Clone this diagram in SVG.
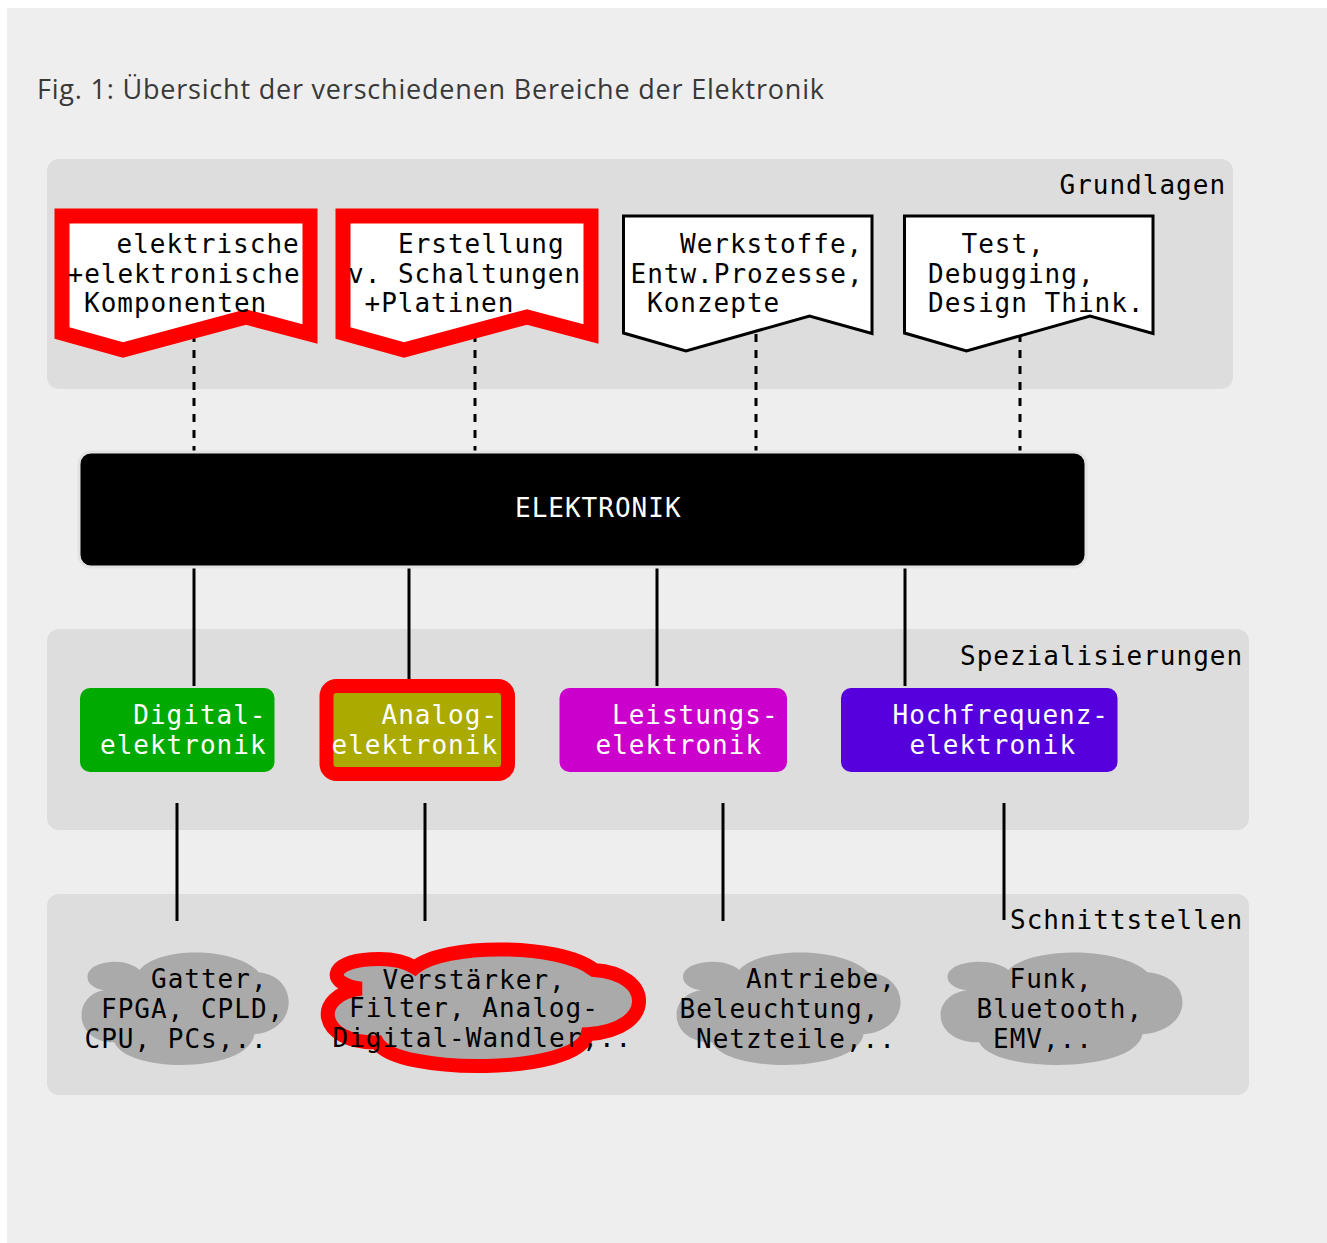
<svg xmlns="http://www.w3.org/2000/svg" width="1327" height="1243" viewBox="0 0 1327 1243">
<style>
.m{font-family:"DejaVu Sans Mono","Liberation Mono",monospace;font-size:26px;letter-spacing:1px;fill:#000}
.w{fill:#fff}
.grp{fill:#dddddd}
.ban{fill:#fff;stroke:#000;stroke-width:3;stroke-linejoin:miter}
.banr{fill:#fff;stroke:#ff0000;stroke-width:15;stroke-linejoin:miter}
.cl{fill:#aaaaaa}
.clr{fill:#aaaaaa;stroke:#ff0000;stroke-width:14}
.ln{stroke:#000;stroke-width:3;fill:none}
.dash{stroke:#000;stroke-width:3;fill:none;stroke-dasharray:8 8}
</style>
<defs>
<path id="cloud" d="M0.11,0.33 C0.0,0.3 0.0,0.1 0.14,0.08 C0.2,0.07 0.25,0.1 0.28,0.15 C0.37,-0.06 0.74,-0.06 0.85,0.17 C1.04,0.2 1.05,0.68 0.83,0.72 C0.80,1.07 0.22,1.07 0.16,0.79 C-0.03,0.80 -0.05,0.38 0.11,0.33 Z"/>
</defs>
<rect x="0" y="0" width="1327" height="1243" fill="#ffffff"/>
<rect x="7" y="8" width="1320" height="1235" fill="#eeeeee"/>
<text x="37" y="99" font-family="'Open Sans','Noto Sans',sans-serif" font-size="27" fill="#383838" textLength="787" lengthAdjust="spacing">Fig. 1: Übersicht der verschiedenen Bereiche der Elektronik</text>

<g id="grundlagen">
<rect class="grp" x="47" y="159" width="1186" height="230" rx="12"/>
<text class="m" x="1059.5" y="194">Grundlagen</text>
</g>
<g id="spezialisierungen">
<rect class="grp" x="47" y="629" width="1202" height="201" rx="12"/>
<text class="m" x="960" y="665">Spezialisierungen</text>
</g>
<g id="schnittstellen">
<rect class="grp" x="47" y="894" width="1202" height="201" rx="12"/>
<text class="m" x="1010" y="929">Schnittstellen</text>
</g>

<g id="connectors">
<line class="dash" x1="194" y1="334" x2="194" y2="452"/>
<line class="dash" x1="475" y1="334" x2="475" y2="452"/>
<line class="dash" x1="756" y1="334" x2="756" y2="452"/>
<line class="dash" x1="1020" y1="334" x2="1020" y2="452"/>
<line class="ln" x1="194" y1="568" x2="194" y2="686"/>
<line class="ln" x1="409" y1="568" x2="409" y2="686"/>
<line class="ln" x1="657" y1="568" x2="657" y2="686"/>
<line class="ln" x1="905" y1="568" x2="905" y2="686"/>
<line class="ln" x1="177" y1="803" x2="177" y2="921"/>
<line class="ln" x1="425" y1="803" x2="425" y2="921"/>
<line class="ln" x1="723" y1="803" x2="723" y2="921"/>
<line class="ln" x1="1004" y1="803" x2="1004" y2="920"/>
</g>

<g id="n-komponenten">
<path class="banr" d="M62,216 H310 V334 L246,317 L123,350 L62,333 Z"/>
<text class="m" x="116.5" y="253">elektrische</text>
<text class="m" x="67.5" y="282.5">+elektronische</text>
<text class="m" x="84" y="312">Komponenten</text>
</g>
<g id="n-schaltungen">
<path class="banr" d="M343,216 H591 V334 L527,317 L404,350 L343,333 Z"/>
<text class="m" x="398" y="253">Erstellung</text>
<text class="m" x="348" y="282.5">v. Schaltungen</text>
<text class="m" x="364.5" y="312">+Platinen</text>
</g>
<g id="n-werkstoffe">
<path class="ban" d="M623.5,216 H872 V333.5 L809.5,316 L686,351 L623.5,333 Z"/>
<text class="m" x="680" y="253">Werkstoffe,</text>
<text class="m" x="630.5" y="282.5">Entw.Prozesse,</text>
<text class="m" x="647" y="312">Konzepte</text>
</g>
<g id="n-test">
<path class="ban" d="M904.5,216 H1153 V333.5 L1090,316 L966.5,351 L904.5,333 Z"/>
<text class="m" x="961.5" y="253">Test,</text>
<text class="m" x="928" y="282.5">Debugging,</text>
<text class="m" x="928" y="312">Design Think.</text>
</g>

<g id="n-elektronik">
<rect x="79" y="452" width="1007" height="115" rx="12" fill="#000" stroke="#e2e2e2" stroke-width="3"/>
<text class="m w" x="515" y="517">ELEKTRONIK</text>
</g>

<g id="n-digital">
<rect x="80" y="688" width="194.5" height="84" rx="10" fill="#00aa00"/>
<text class="m w" x="133.3" y="724">Digital-</text>
<text class="m w" x="100" y="753.5">elektronik</text>
</g>
<g id="n-analog">
<rect x="326.5" y="686" width="181.5" height="88" rx="10" fill="#aaaa00" stroke="#ff0000" stroke-width="14"/>
<text class="m w" x="381.5" y="724">Analog-</text>
<text class="m w" x="331.5" y="753.5">elektronik</text>
</g>
<g id="n-leistung">
<rect x="559.5" y="688" width="227.5" height="84" rx="10" fill="#cc00cc"/>
<text class="m w" x="612" y="724">Leistungs-</text>
<text class="m w" x="595.5" y="753.5">elektronik</text>
</g>
<g id="n-hochfrequenz">
<rect x="841" y="688" width="276.5" height="84" rx="10" fill="#5500dd"/>
<text class="m w" x="892.5" y="724">Hochfrequenz-</text>
<text class="m w" x="909.5" y="753.5">elektronik</text>
</g>

<g id="n-gatter">
<use href="#cloud" class="cl" transform="translate(81 953) scale(209 113)"/>
<text class="m" x="151" y="988">Gatter,</text>
<text class="m" x="101" y="1018">FPGA, CPLD,</text>
<text class="m" x="84.5" y="1047.5">CPU, PCs,..</text>
</g>
<g id="n-verstaerker">
<path class="clr" vector-effect="non-scaling-stroke" transform="translate(327 950) scale(314 117)" d="M0.11,0.33 C0.0,0.3 0.0,0.1 0.14,0.08 C0.2,0.07 0.25,0.1 0.28,0.15 C0.37,-0.06 0.74,-0.06 0.85,0.17 C1.04,0.2 1.05,0.68 0.83,0.72 C0.80,1.07 0.22,1.07 0.16,0.79 C-0.03,0.80 -0.05,0.38 0.11,0.33 Z"/>
<text class="m" x="382.5" y="988.5">Verstärker,</text>
<text class="m" x="349" y="1017">Filter, Analog-</text>
<text class="m" x="332.5" y="1046.5">Digital-Wandler,..</text>
</g>
<g id="n-antriebe">
<use href="#cloud" class="cl" transform="translate(676 953) scale(226 113)"/>
<text class="m" x="746" y="988">Antriebe,</text>
<text class="m" x="679.5" y="1018">Beleuchtung,</text>
<text class="m" x="696" y="1047.5">Netzteile,..</text>
</g>
<g id="n-funk">
<use href="#cloud" class="cl" transform="translate(940 953) scale(244 113)"/>
<text class="m" x="1009.5" y="988">Funk,</text>
<text class="m" x="976.5" y="1018">Bluetooth,</text>
<text class="m" x="993" y="1047.5">EMV,..</text>
</g>
</svg>
